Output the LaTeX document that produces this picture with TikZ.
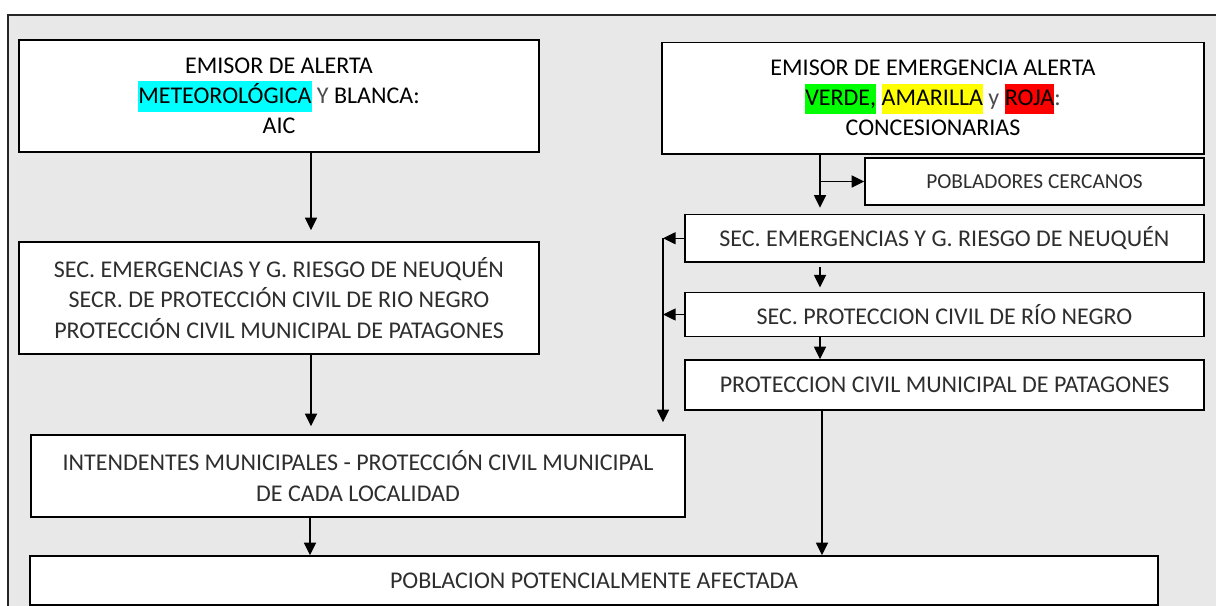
\documentclass[tikz,border=0pt]{standalone}
\usepackage{fontspec}
\setmainfont{Carlito}
\usetikzlibrary{arrows.meta,calc}
\definecolor{bgfill}{RGB}{232,232,232}
\definecolor{hlcyan}{RGB}{0,255,255}
\definecolor{hlgreen}{RGB}{0,255,0}
\definecolor{hlyellow}{RGB}{255,255,0}
\definecolor{hlred}{RGB}{255,0,0}
\newcommand{\hlbox}[2]{{\setlength{\fboxsep}{0pt}\colorbox{#1}{\rule[-0.35em]{0pt}{1.28em}#2}}}
\tikzset{
  boxnode/.style={draw=black, line width=1.1pt, fill=white, rectangle, inner sep=0pt, align=center},
  titletext/.style={font=\fontsize{18}{22.5}\selectfont, text=black},
  lighttext/.style={font=\fontsize{18}{22.9}\selectfont, text=black!82},
  arr/.style={line width=1.1pt, draw=black, -{Triangle[length=9.5pt,width=9pt]}},
  plain/.style={line width=1.1pt, draw=black}
}
\begin{document}
\begin{tikzpicture}[x=0.75pt,y=-0.75pt]
\useasboundingbox (0,0) rectangle (1216,606);
\clip (0,0) rectangle (1216,606);
\fill[white] (0,0) rectangle (1216,606);
\draw[fill=bgfill, draw=black!85, line width=1.1pt] (8,15) rectangle (1240,640);

% left column
\node[boxnode, titletext, minimum width=520*0.75pt, minimum height=112*0.75pt] (b1) at (279,96)
  {EMISOR DE ALERTA\\ \hlbox{hlcyan}{METEOROLÓGICA} {\color{black!70}Y} BLANCA:\\ AIC};
\node[boxnode, lighttext, minimum width=520*0.75pt, minimum height=112*0.75pt] (b3) at (279,298)
  {SEC. EMERGENCIAS Y G. RIESGO DE NEUQUÉN\\ SECR. DE PROTECCIÓN CIVIL DE RIO NEGRO\\ PROTECCIÓN CIVIL MUNICIPAL DE PATAGONES};
\node[boxnode, lighttext, minimum width=654*0.75pt, minimum height=82*0.75pt] (int) at (358,476)
  {INTENDENTES MUNICIPALES - PROTECCIÓN CIVIL MUNICIPAL\\ DE CADA LOCALIDAD};

% right column
\node[boxnode, titletext, minimum width=542*0.75pt, minimum height=111.5*0.75pt] (b2) at (933,98.25)
  {EMISOR DE EMERGENCIA ALERTA\\ \hlbox{hlgreen}{VERDE,} \hlbox{hlyellow}{AMARILLA} {\color{black!70}y} \hlbox{hlred}{ROJA}{\color{black!70}:}\\ CONCESIONARIAS};
\node[boxnode, font=\fontsize{16}{20}\selectfont, text=black!82, minimum width=339*0.75pt, minimum height=47*0.75pt] (pob) at (1034.5,181.5)
  {POBLADORES CERCANOS};
\node[boxnode, lighttext, minimum width=519*0.75pt, minimum height=47.5*0.75pt] (sen) at (944.5,238.25)
  {SEC. EMERGENCIAS Y G. RIESGO DE NEUQUÉN};
\node[boxnode, lighttext, minimum width=519*0.75pt, minimum height=44.5*0.75pt] (spr) at (944.5,314.5)
  {SEC. PROTECCION CIVIL DE RÍO NEGRO};
\node[boxnode, lighttext, minimum width=519*0.75pt, minimum height=50*0.75pt] (pcm) at (944.5,385)
  {PROTECCION CIVIL MUNICIPAL DE PATAGONES};

% bottom
\node[boxnode, lighttext, minimum width=1128*0.75pt, minimum height=49*0.75pt] (pot) at (594,580.5)
  {POBLACION POTENCIALMENTE AFECTADA};

% guide coordinates
\coordinate (xl) at (311,0);
\coordinate (xi) at (310,0);
\coordinate (xr) at (820,0);
\coordinate (xp) at (822,0);
\coordinate (vl) at (663,0);

% left arrows
\draw[arr, shorten >=8.25pt] (xl |- b1.south) -- (xl |- b3.north);
\draw[arr, shorten >=6pt] (xl |- b3.south) -- (xl |- int.north);
\draw[arr] (xi |- int.south) -- (xi |- pot.north);

% right arrows
\draw[arr, shorten >=4.5pt] (xr |- b2.south) -- (xr |- sen.north);
\draw[arr] (xr |- pob.west) -- (pob.west);
\draw[arr, shorten <=3pt, shorten >=3pt] (xr |- sen.south) -- (xr |- spr.north);
\draw[arr] (xr |- spr.south) -- (xr |- pcm.north);
\draw[arr] (xp |- pcm.south) -- (xp |- pot.north);

% side bus
\draw[arr] (sen.west) -- (vl |- sen.west);
\draw[arr] (spr.west) -- (vl |- spr.west);
\draw[arr, shorten >=9pt] (vl |- sen.west) -- (vl |- int.north);
\end{tikzpicture}
\end{document}
